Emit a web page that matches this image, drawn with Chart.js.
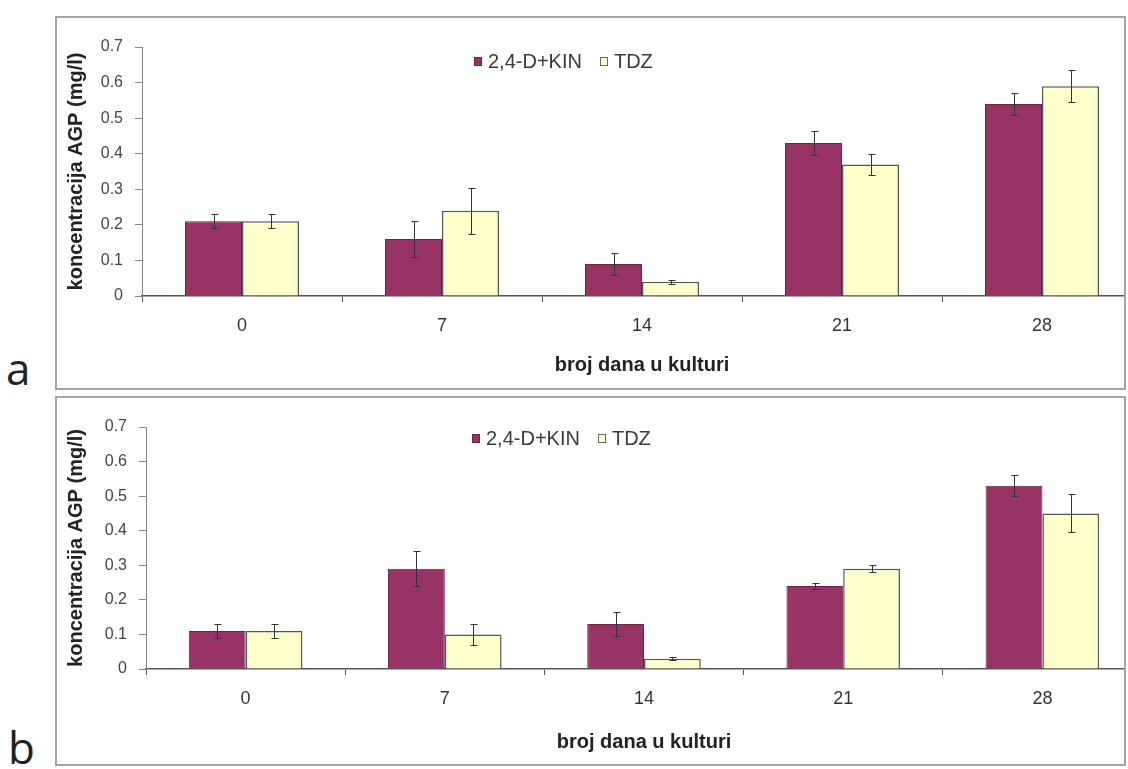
<!DOCTYPE html>
<html lang="sr">
<head>
<meta charset="UTF-8">
<title>Koncentracija AGP</title>
<style>
    body {
        margin: 0;
        background: #fff;
        font-family: "Liberation Sans", Arial, sans-serif;
        width: 1128px;
        height: 769px;
        position: relative;
        overflow: hidden;
    }
    .panel {
        position: absolute;
        left: 55px;
        width: 1071px;
        box-sizing: border-box;
        border: 2px solid #a4a4a4;
        overflow: hidden;
        background: #fff;
    }
    #panelA { top: 16px; height: 374px; }
    #panelB { top: 396px; height: 370px; }
    .panel canvas { position: absolute; left: 0; top: 0; }
    .legend {
        position: absolute;
        display: flex;
        align-items: center;
        font-size: 20px;
        color: #3a3a3a;
        white-space: nowrap;
        line-height: 22px;
    }
    .legend .sw {
        display: inline-block;
        width: 8px;
        height: 9px;
        margin-right: 6px;
        box-sizing: border-box;
    }
    .legend .item { display: flex; align-items: center; margin-right: 18px; }
    .letter {
        position: absolute;
        font-family: "Open Sans", "DejaVu Sans", sans-serif;
        font-size: 44px;
        color: #222;
        line-height: 44px;
    }
</style>
<script src="https://cdn.jsdelivr.net/npm/chart.js"></script>
</head>
<body>
    <div class="panel" id="panelA">
        <canvas id="chartA" width="1090" height="370"></canvas>
        <div class="legend" style="left:417px; top:32px;">
            <span class="item"><span class="sw" style="background:#993366;border:1px solid #6a2246"></span>2,4-D+KIN</span>
            <span class="item"><span class="sw" style="background:#ffffcc;border:1px solid #666"></span>TDZ</span>
        </div>
    </div>
    <div class="letter" style="left:6px; top:346px;">a</div>

    <div class="panel" id="panelB">
        <canvas id="chartB" width="1090" height="366"></canvas>
        <div class="legend" style="left:415px; top:29px;">
            <span class="item"><span class="sw" style="background:#993366;border:1px solid #6a2246"></span>2,4-D+KIN</span>
            <span class="item"><span class="sw" style="background:#ffffcc;border:1px solid #666"></span>TDZ</span>
        </div>
    </div>
    <div class="letter" style="left:8px; top:725px;">b</div>

<script>
// days in culture
const days = ['0', '7', '14', '21', '28'];
const seriesNames = ['2,4-D+KIN', 'TDZ'];

// panel a
const kinA = [0.21, 0.16, 0.09, 0.43, 0.54];
const tdzA = [0.21, 0.24, 0.04, 0.37, 0.59];
const kinErrA = [0.02, 0.05, 0.03, 0.035, 0.03];
const tdzErrA = [0.02, 0.065, 0.005, 0.03, 0.045];

// panel b
const kinB = [0.11, 0.29, 0.13, 0.24, 0.53];
const tdzB = [0.11, 0.10, 0.03, 0.29, 0.45];
const kinErrB = [0.02, 0.05, 0.035, 0.01, 0.03];
const tdzErrB = [0.02, 0.03, 0.005, 0.01, 0.055];

const yTitle = 'koncentracija AGP (mg/l)';
const xTitle = 'broj dana u kulturi';

// draws the +/- error whiskers on top of each bar
const errorBars = {
    id: 'errorBars',
    afterDatasetsDraw(chart) {
        const ctx = chart.ctx;
        const yScale = chart.scales.y;
        ctx.save();
        ctx.strokeStyle = '#333';
        ctx.lineWidth = 1;
        chart.data.datasets.forEach((ds, i) => {
            const meta = chart.getDatasetMeta(i);
            meta.data.forEach((bar, j) => {
                const v = ds.data[j];
                const e = ds.errors[j];
                const yTop = Math.round(yScale.getPixelForValue(v + e)) + 0.5;
                const yBot = Math.round(yScale.getPixelForValue(v - e)) + 0.5;
                const x = Math.round(bar.x) + 0.5;
                ctx.beginPath();
                ctx.moveTo(x, yTop);
                ctx.lineTo(x, yBot);
                ctx.moveTo(x - 3, yTop);
                ctx.lineTo(x + 4, yTop);
                ctx.moveTo(x - 3, yBot);
                ctx.lineTo(x + 4, yBot);
                ctx.stroke();
            });
        });
        ctx.restore();
    }
};

function makeChart(id, kin, tdz, kinErr, tdzErr, geo) {
    const ctx = document.getElementById(id).getContext('2d');
    return new Chart(ctx, {
        type: 'bar',
        data: {
            labels: days,
            datasets: [{
                label: seriesNames[0],
                data: kin,
                errors: kinErr,
                backgroundColor: '#993366',
                borderColor: '#6a2246',
                borderWidth: 1,
                categoryPercentage: 0.57,
                barPercentage: 1.0
            }, {
                label: seriesNames[1],
                data: tdz,
                errors: tdzErr,
                backgroundColor: '#ffffcc',
                borderColor: '#555',
                borderWidth: 1.5,
                categoryPercentage: 0.57,
                barPercentage: 1.0
            }]
        },
        options: {
            responsive: false,
            animation: false,
            devicePixelRatio: 1,
            layout: { padding: { top: geo.top, right: 5, bottom: 0, left: 0 } },
            plugins: {
                legend: { display: false },
                tooltip: { enabled: false }
            },
            scales: {
                x: {
                    afterFit: s => { s.height = geo.xHeight; },
                    grid: { drawOnChartArea: false, tickLength: 6, color: '#555' },
                    border: { color: '#555', width: 1.5 },
                    ticks: {
                        color: '#333',
                        padding: 13,
                        font: { family: '"Liberation Sans", Arial, sans-serif', size: 18 }
                    },
                    title: {
                        display: true,
                        text: xTitle,
                        color: '#222',
                        padding: { top: 0, bottom: geo.xTitlePad },
                        font: { family: '"Liberation Sans", Arial, sans-serif', size: 20, weight: 'bold' }
                    }
                },
                y: {
                    min: 0,
                    max: 0.7,
                    afterFit: s => { s.width = geo.yWidth; },
                    grid: { drawOnChartArea: false, tickLength: 7, color: '#888' },
                    border: { color: '#888', width: 1 },
                    ticks: {
                        stepSize: 0.1,
                        color: '#444',
                        padding: 12,
                        font: { family: '"Liberation Sans", Arial, sans-serif', size: 16 }
                    },
                    title: {
                        display: true,
                        text: yTitle,
                        color: '#222',
                        padding: { top: 7, bottom: 0 },
                        font: { family: '"Liberation Sans", Arial, sans-serif', size: 20, weight: 'bold' }
                    }
                }
            }
        },
        plugins: [errorBars]
    });
}

makeChart('chartA', kinA, tdzA, kinErrA, tdzErrA, { top: 29, xHeight: 92, yWidth: 85, xTitlePad: 11 });
makeChart('chartB', kinB, tdzB, kinErrB, tdzErrB, { top: 29, xHeight: 95, yWidth: 89, xTitlePad: 10 });
</script>
</body>
</html>
